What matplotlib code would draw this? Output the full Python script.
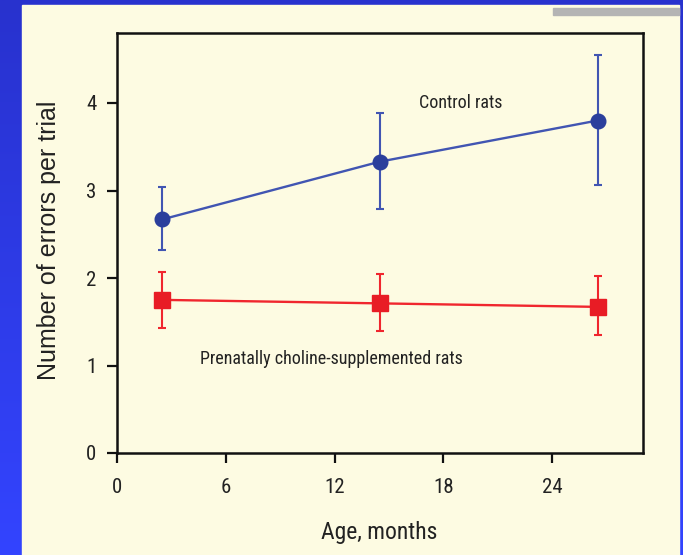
import numpy as np
import matplotlib
matplotlib.use('Agg')
import matplotlib.pyplot as plt
from matplotlib.patches import Rectangle

# data
age = [2.5, 14.5, 26.5]
control = [2.67, 3.33, 3.80]
control_lo = [2.32, 2.79, 3.06]
control_hi = [3.04, 3.89, 4.55]
choline = [1.75, 1.71, 1.67]
choline_lo = [1.43, 1.39, 1.35]
choline_hi = [2.07, 2.05, 2.02]
xticks = [0, 6, 12, 18, 24]
yticks = [0, 1, 2, 3, 4]

narrow = ['Roboto Condensed', 'Archivo Narrow', 'DejaVu Sans']
plain = ['Liberation Sans', 'DejaVu Sans']

W, H = 683, 555
fig = plt.figure(figsize=(W / 100, H / 100), dpi=100)

# blue slide background with gradient on the left
bg = fig.add_axes([0, 0, 1, 1])
grad = np.linspace(0, 1, 256).reshape(-1, 1)
top = np.array([0x28, 0x32, 0xce]) / 255
bot = np.array([0x33, 0x44, 0xff]) / 255
img = top + (bot - top) * grad[:, :, None]
bg.imshow(img, aspect='auto', extent=[0, 1, 0, 1], origin='upper')
bg.add_patch(Rectangle((22 / W, 0), (679 - 22) / W, (H - 5) / H,
                       color='#fdfbe2', transform=bg.transAxes))
bg.add_patch(Rectangle((553 / W, (H - 15) / H), (679 - 553) / W, 7 / H,
                       color='#b4b4b4', transform=bg.transAxes))
bg.set_xlim(0, 1)
bg.set_ylim(0, 1)
bg.axis('off')

ax = fig.add_axes([117 / W, (H - 453) / H, 526 / W, 420 / H])
ax.set_facecolor('none')

c_err = [np.subtract(control, control_lo), np.subtract(control_hi, control)]
p_err = [np.subtract(choline, choline_lo), np.subtract(choline_hi, choline)]

ax.errorbar(age, control, yerr=c_err, color='#4155b2', lw=1.7, elinewidth=1.5,
            capsize=3, capthick=1.5, marker='o', ms=10.5, mfc='#2b3f9c',
            mec='#2b3f9c', zorder=3)
ax.errorbar(age, choline, yerr=p_err, color='#f0262e', lw=1.7, elinewidth=1.5,
            capsize=3, capthick=1.5, marker='s', ms=11, mfc='#e81c25',
            mec='#e81c25', zorder=3)

ax.set_xlim(0, 29)
ax.set_ylim(0, 4.8)
ax.set_xticks(xticks)
ax.set_yticks(yticks)
ax.set_xticklabels([str(t) for t in xticks], family=narrow, fontsize=15)
ax.set_yticklabels([str(t) for t in yticks], family=narrow, fontsize=15)
ax.tick_params(direction='out', length=7, width=1.6, color='#111111',
               labelcolor='#222222')
ax.tick_params(axis='x', pad=11)
ax.tick_params(axis='y', pad=8)
for s in ax.spines.values():
    s.set_linewidth(1.8)
    s.set_color('#111111')

ax.text(18.95, 4.0, 'Control rats', family=narrow, fontsize=13,
        color='#222222', ha='center', va='center')
ax.text(11.8, 1.08, 'Prenatally choline-supplemented rats', family=narrow,
        fontsize=13, color='#222222', ha='center', va='center')

ax.set_xlabel('Age, months', family=narrow, fontsize=17, color='#222222')
ax.xaxis.set_label_coords(0.498, -0.163)
ax.set_ylabel('Number of errors per trial', family=plain, fontsize=18,
              color='#222222')
ax.yaxis.set_label_coords(-0.106, 0.507)

fig.savefig('out.png', dpi=100)
